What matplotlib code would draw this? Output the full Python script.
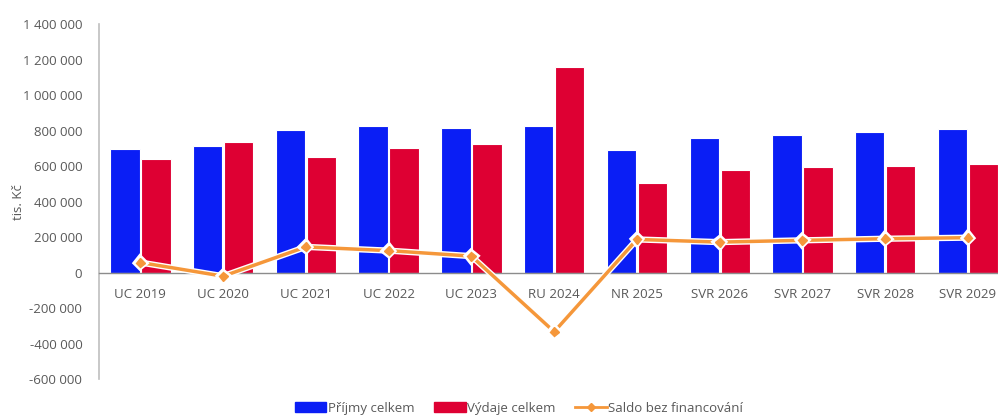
import matplotlib.pyplot as plt
import matplotlib.patheffects as pe
from matplotlib.patches import Patch
from matplotlib.lines import Line2D
from matplotlib.ticker import FuncFormatter
import numpy as np

plt.rcParams['font.family'] = ['Open Sans', 'DejaVu Sans']

roky = ['UC 2019', 'UC 2020', 'UC 2021', 'UC 2022', 'UC 2023', 'RU 2024',
        'NR 2025', 'SVR 2026', 'SVR 2027', 'SVR 2028', 'SVR 2029']
prijmy = [697000, 715000, 802000, 828000, 817000, 828000,
          691000, 757000, 776000, 791000, 808000]
vydaje = [639000, 735000, 652000, 701000, 723000, 1160000,
          505000, 582000, 594000, 603000, 611000]
saldo = [58000, -19000, 146000, 125000, 94000, -332000,
         188000, 173000, 183000, 192000, 198000]

MODRA = '#0A1EF5'
CERVENA = '#DE0033'
ORANZ = '#F5973A'
SEDA = '#595959'

fig = plt.figure(figsize=(9.98, 4.19), dpi=100)
ax = fig.add_axes([0.0992, 0.0947, 0.9122, 0.8473])

x = np.arange(len(roky))
w = 0.355
ax.bar(x - w / 2 - 0.01, prijmy, w, color=MODRA, edgecolor='white', linewidth=0.8, zorder=2)
ax.bar(x + w / 2 + 0.01, vydaje, w, color=CERVENA, edgecolor='white', linewidth=0.8, zorder=2)
ax.plot(x, saldo, color=ORANZ, lw=2.5, marker='D', ms=4.5, zorder=3,
        path_effects=[pe.Stroke(linewidth=4.5, foreground='white'), pe.Normal()])

ax.set_xlim(-0.5, len(roky) - 0.5)
ax.set_ylim(-600000, 1400000)
ax.set_yticks(np.arange(-600000, 1400001, 200000))
ax.yaxis.set_major_formatter(FuncFormatter(lambda v, p: f'{int(v):,}'.replace(',', ' ')))
ax.set_xticks(x)
ax.set_xticklabels(roky)

for s in ['top', 'right']:
    ax.spines[s].set_visible(False)
ax.spines['left'].set_color('#BFBFBF')
ax.spines['left'].set_linewidth(1.2)
ax.spines['bottom'].set_position(('data', 0))
ax.spines['bottom'].set_color('#8C8C8C')
ax.spines['bottom'].set_linewidth(1.0)
ax.tick_params(axis='both', length=0, labelsize=9.5, colors=SEDA)
ax.tick_params(axis='x', pad=11)
ax.tick_params(axis='y', pad=12)
ax.set_ylabel('tis. Kč', fontsize=9.5, color=SEDA, labelpad=-2)

handles = [Patch(color=MODRA), Patch(color=CERVENA),
           Line2D([], [], color=ORANZ, lw=2, marker='D', ms=4)]
fig.legend(handles, ['Příjmy celkem', 'Výdaje celkem', 'Saldo bez financování'],
           loc='center', bbox_to_anchor=(0.52, 0.026), ncol=3, frameon=False,
           fontsize=9.5, labelcolor=SEDA, handlelength=2.4, handleheight=0.8,
           handletextpad=0.1, columnspacing=1.5)

fig.savefig('out.png', dpi=100)
